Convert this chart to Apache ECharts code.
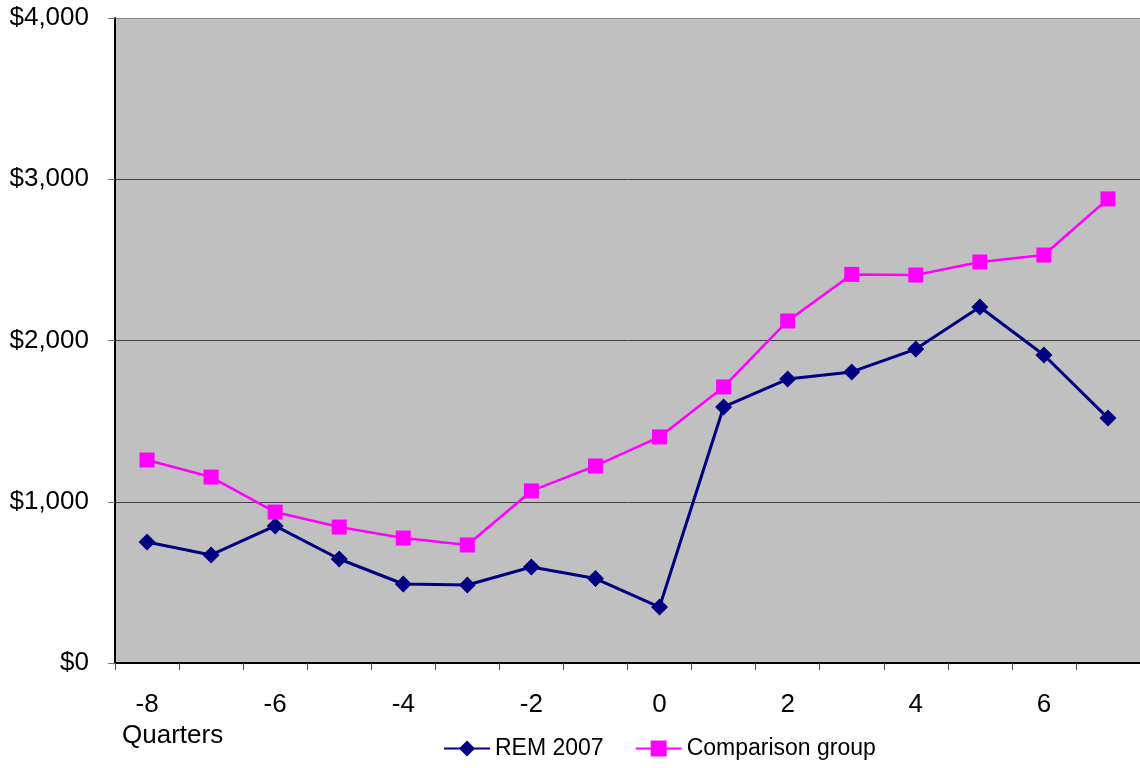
<!DOCTYPE html>
<html>
<head>
<meta charset="utf-8">
<script src="https://cdn.jsdelivr.net/npm/echarts@6/dist/echarts.min.js"></script>
<style>
  html, body { margin: 0; padding: 0; background: #ffffff; }
  #chart { width: 1140px; height: 768px; }
</style>
</head>
<body>
<div id="chart"></div>
<script>
// Quarters relative to the event quarter
const quarters = ['-8', '-7', '-6', '-5', '-4', '-3', '-2', '-1', '0', '1', '2', '3', '4', '5', '6', '7'];
// Average amounts per quarter
const rem2007 = [750, 670, 850, 645, 490, 484, 595, 524, 347, 1588, 1761, 1805, 1947, 2208, 1910, 1519];
const comparisonGroup = [1259, 1153, 936, 843, 775, 732, 1067, 1222, 1402, 1712, 2121, 2410, 2406, 2487, 2530, 2878];
const seriesNames = ['REM 2007', 'Comparison group'];

const FONT = '"Liberation Sans", Arial, Helvetica, sans-serif';
const chart = echarts.init(document.getElementById('chart'), null, { renderer: 'canvas' });

chart.setOption({
  animation: false,
  backgroundColor: '#ffffff',
  textStyle: { fontFamily: FONT },
  grid: {
    left: 115, right: 0, top: 18, bottom: 105,
    show: true, backgroundColor: '#c0c0c0', borderWidth: 0
  },
  legend: {
    left: 438, top: 732,
    itemWidth: 46, itemHeight: 20, itemGap: 31,
    textStyle: { fontFamily: FONT, fontSize: 23, color: '#000' },
    data: seriesNames
  },
  graphic: [{
    type: 'text', left: 122, top: 723,
    style: { text: 'Quarters', font: '26px ' + FONT, fill: '#000' }
  }],
  xAxis: {
    type: 'category',
    data: quarters,
    boundaryGap: true,
    axisLine: { lineStyle: { color: '#000', width: 2 } },
    axisTick: { show: true, interval: 0, length: 7, lineStyle: { color: '#555', width: 1 } },
    axisLabel: { interval: 1, margin: 29, fontSize: 26, color: '#000', fontFamily: FONT },
    splitLine: { show: false }
  },
  yAxis: {
    type: 'value',
    min: 0, max: 4000, interval: 1000,
    axisLine: { show: true, lineStyle: { color: '#000', width: 2 } },
    axisTick: { show: true, length: 7, lineStyle: { color: '#777' } },
    axisLabel: {
      margin: 26, fontSize: 26, color: '#000', fontFamily: FONT,
      formatter: v => '$' + v.toLocaleString('en-US')
    },
    splitLine: {
      show: true,
      lineStyle: { color: ['#000', '#444', '#444', '#444', '#888'], width: 1 }
    }
  },
  series: [
    {
      name: seriesNames[0], type: 'line', data: rem2007,
      symbol: 'diamond', symbolSize: 17,
      lineStyle: { color: '#000080', width: 3 },
      itemStyle: { color: '#000080' }
    },
    {
      name: seriesNames[1], type: 'line', data: comparisonGroup,
      symbol: 'rect', symbolSize: 15,
      lineStyle: { color: '#ff00ff', width: 2.5 },
      itemStyle: { color: '#ff00ff' }
    }
  ]
});
</script>
</body>
</html>
